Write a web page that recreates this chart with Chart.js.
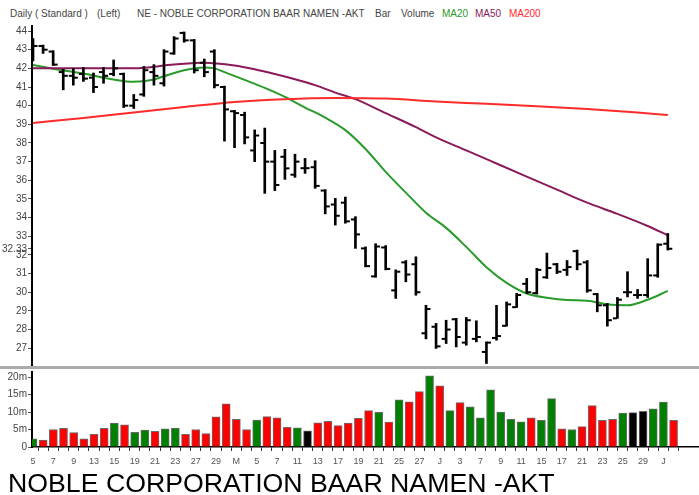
<!DOCTYPE html>
<html lang="en">
<head>
<meta charset="UTF-8">
<title>NOBLE CORPORATION BAAR NAMEN -AKT</title>
<script src="https://cdn.jsdelivr.net/npm/chart.js@4.4.1/dist/chart.umd.min.js"></script>
<style>
    body { margin: 0; background: #fff; font-family: "Liberation Sans", Arial, sans-serif; }
    #wrap { position: relative; width: 699px; height: 495px; overflow: hidden; background: #fff; }
    #head { position: absolute; left: 0; top: 8px; width: 699px; height: 13px; font-size: 10px; color: #444; white-space: nowrap; }
    #head span { position: absolute; top: 0; }
    canvas { position: absolute; left: 0; }
    #sep { position: absolute; left: 0; top: 366px; width: 699px; height: 3px; background: #aaa; }
    #title { position: absolute; left: 8px; top: 470px; font-size: 26.7px; line-height: 26.7px; color: #000; white-space: nowrap; }
</style>
</head>
<body>
<div id="wrap">
    <div id="head">
        <span style="left:10px">Daily ( Standard )</span>
        <span style="left:97px">(Left)</span>
        <span style="left:137px">NE - NOBLE CORPORATION BAAR NAMEN -AKT</span>
        <span style="left:375px">Bar</span>
        <span style="left:401px">Volume</span>
        <span style="left:442px;color:#2a9a2a">MA20</span>
        <span style="left:475px;color:#8b1a5a">MA50</span>
        <span style="left:509px;color:#ff2a2a">MA200</span>
    </div>
    <canvas id="price" width="699" height="375" style="top:0"></canvas>
    <canvas id="vol" width="699" height="110" style="top:362px"></canvas>
    <div id="sep"></div>
    <div id="title">NOBLE CORPORATION BAAR NAMEN -AKT</div>
</div>

<script>
// daily bars, 5 Apr - 2 Jul
const opens  = [42.6, 43.2, 42.9, 41.8, 41.6, 41.7, 41.5, 41.8, 41.7, 41.7, 40.0, 40.6, 41.8, 41.2, 42.8, 43.9,
                43.5, 42.3, 42.9, 41.0, 39.7, 39.5, 37.6, 38.0, 37.0, 37.26, 36.3, 36.65, 36.7, 35.45, 34.7, 34.8,
                33.9, 32.35, 30.85, 32.4, 30.1, 31.6, 31.5, 27.8, 28.15, 27.5, 28.55, 27.3, 27.5, 26.8, 27.55, 28.2,
                29.2, 30.45, 29.95, 30.8, 31.5, 31.2, 32.2, 31.6, 29.9, 29.3, 28.6, 30.0, 29.85, 29.85, 30.9, 32.6];
const highs  = [43.6, 43.25, 42.95, 41.95, 42.0, 42.05, 41.75, 42.05, 42.45, 41.75, 40.6, 42.1, 42.2, 43.0, 43.7, 43.95,
                43.55, 42.5, 43.0, 41.05, 39.75, 39.65, 38.7, 38.8, 37.6, 37.66, 37.4, 37.17, 37.05, 35.5, 35.03, 35.1,
                34.05, 32.43, 32.6, 32.5, 31.2, 31.7, 31.9, 29.3, 28.33, 28.5, 28.6, 28.65, 28.47, 27.34, 29.3, 29.48,
                29.94, 30.74, 31.28, 32.1, 31.55, 31.7, 32.26, 31.7, 29.94, 29.4, 29.72, 31.1, 30.15, 31.8, 32.6, 33.15];
const lows   = [42.4, 42.8, 42.15, 40.85, 41.1, 41.3, 40.7, 41.2, 41.6, 39.9, 39.85, 40.5, 41.1, 41.05, 42.75, 43.4,
                41.75, 41.55, 40.95, 38.1, 37.75, 37.95, 37.0, 35.3, 35.45, 36.05, 36.16, 36.37, 35.57, 34.2, 33.6, 33.7,
                32.35, 31.36, 30.8, 31.2, 29.67, 30.56, 29.84, 27.5, 26.99, 27.25, 27.07, 27.16, 27.34, 26.18, 27.43, 28.18,
                29.18, 29.94, 29.9, 30.74, 31.0, 30.9, 31.2, 30.0, 28.95, 28.18, 28.6, 29.75, 29.67, 29.72, 30.8, 32.26];
const closes = [43.2, 43.0, 42.2, 41.6, 41.5, 41.45, 41.0, 41.6, 42.0, 40.0, 40.3, 41.9, 41.6, 42.9, 43.6, 43.5,
                41.9, 41.8, 41.1, 39.8, 39.6, 38.3, 38.4, 37.0, 35.75, 36.64, 37.0, 36.65, 35.7, 34.6, 34.1, 33.8,
                33.1, 31.4, 32.45, 31.25, 31.1, 30.95, 30.0, 29.1, 27.1, 28.0, 27.6, 28.5, 27.6, 27.3, 27.65, 29.35,
                29.85, 30.0, 31.2, 31.3, 31.1, 31.35, 31.5, 30.1, 29.3, 28.5, 29.6, 30.0, 29.85, 30.9, 32.55, 32.33];
// volume in millions
const volumes = [2.3, 2.0, 5.0, 5.3, 4.1, 2.3, 3.6, 5.3, 6.8, 6.3, 4.2, 4.8, 4.5, 5.2, 5.4, 3.6,
                 5.0, 3.8, 8.6, 12.3, 7.9, 5.0, 7.7, 8.7, 8.3, 5.6, 5.5, 4.6, 6.9, 7.3, 6.1, 6.8,
                 8.2, 10.4, 9.9, 7.1, 13.5, 12.9, 15.8, 20.3, 17.5, 10.4, 12.7, 11.5, 8.3, 16.3, 10.0, 7.9,
                 7.2, 8.3, 7.6, 13.8, 5.2, 5.0, 5.8, 11.8, 7.6, 7.9, 9.7, 9.8, 10.2, 10.9, 12.8, 7.6];

// moving averages (bar index -> value)
const ma20At  = [0, 2, 5, 8, 10, 12, 13, 15, 17, 18, 19, 21, 23, 25, 27, 29, 31, 33, 35, 37, 39, 41, 43, 45, 47, 49, 51, 53, 55, 57, 59, 61, 63];
const ma20    = [42.18, 41.98, 41.72, 41.4, 41.28, 41.4, 41.58, 41.9, 42.05, 42.0, 41.8, 41.38, 40.95, 40.47, 39.9, 39.36, 38.69,
                 37.68, 36.45, 35.34, 34.26, 33.45, 32.43, 31.34, 30.5, 29.93, 29.7, 29.58, 29.55, 29.35, 29.3, 29.6, 30.07];
const ma50At  = [0, 5, 10, 14, 17, 20, 22, 24, 26, 28, 30, 32, 35, 38, 40, 43, 46, 49, 52, 55, 58, 61, 63];
const ma50    = [42.0, 42.0, 42.0, 42.2, 42.3, 42.15, 41.95, 41.7, 41.42, 41.1, 40.7, 40.35, 39.6, 38.85, 38.3, 37.6,
                 36.9, 36.2, 35.5, 34.8, 34.2, 33.55, 33.05];
const ma200At = [0, 5, 10, 15, 20, 25, 30, 35, 40, 45, 50, 55, 60, 63];
const ma200   = [39.07, 39.34, 39.64, 39.93, 40.2, 40.35, 40.41, 40.38, 40.22, 40.1, 39.97, 39.82, 39.63, 39.5];

const priceTicks = [27, 28, 29, 30, 31, 32, 32.33, 33, 34, 35, 36, 37, 38, 39, 40, 41, 42, 43, 44];
const volTicks = [0, 5, 10, 15, 20];
// labels on every second trading day
const xTickLabels = ['5', '7', '9', '13', '15', '19', '21', '23', '27', '29', 'M', '5', '7', '11', '13', '17',
                     '19', '21', '25', '27', 'J', '3', '7', '9', '11', '15', '17', '21', '23', '25', '29', 'J'];

const xMin = -0.1, xMax = 65.5;
const labelFont = { family: '"Liberation Sans", Arial, sans-serif', size: 10 };

function pts(xs, ys) {
    return xs.map((x, i) => ({ x: x, y: ys[i] }));
}

function fixWidth(scale) { scale.width = 32; }

function maLine(xs, ys, color) {
    return {
        type: 'line', data: pts(xs, ys), borderColor: color, borderWidth: 2,
        pointRadius: 0, cubicInterpolationMode: 'monotone', order: 5
    };
}

const idx = closes.map((_, i) => i);

new Chart(document.getElementById('price'), {
    type: 'line',
    data: {
        datasets: [
            { type: 'bar', data: idx.map(i => ({ x: i, y: [lows[i], highs[i]] })), backgroundColor: '#000',
              barThickness: 2, order: 0 },
            { type: 'scatter', data: idx.map(i => ({ x: i - 0.25, y: opens[i] })), pointStyle: 'line',
              pointRadius: 2, borderColor: '#000', borderWidth: 2, order: 0 },
            { type: 'scatter', data: idx.map(i => ({ x: i + 0.25, y: closes[i] })), pointStyle: 'line',
              pointRadius: 2, borderColor: '#000', borderWidth: 2, order: 0 },
            maLine(ma200At, ma200, '#ff2a2a'),
            maLine(ma50At, ma50, '#8b1a5a'),
            maLine(ma20At, ma20, '#2a9a2a')
        ]
    },
    options: {
        responsive: false,
        animation: false,
        devicePixelRatio: 1,
        events: [],
        layout: { padding: { top: 26, bottom: 10, left: 0, right: 0 } },
        plugins: { legend: { display: false }, tooltip: { enabled: false } },
        scales: {
            x: { type: 'linear', min: xMin, max: xMax, offset: false, display: false },
            y: {
                type: 'linear', min: 26.1, max: 44.27,
                afterBuildTicks: s => { s.ticks = priceTicks.map(v => ({ value: v })); },
                afterFit: fixWidth,
                grid: { drawOnChartArea: false, tickLength: 4, color: '#555' },
                border: { color: '#000', width: 2 },
                ticks: { autoSkip: false, padding: 1, color: '#444', font: labelFont,
                         callback: v => v === 32.33 ? '32.33' : String(v) }
            }
        }
    }
});

new Chart(document.getElementById('vol'), {
    type: 'bar',
    data: {
        datasets: [{
            data: idx.map(i => ({ x: i, y: volumes[i] })),
            backgroundColor: idx.map(i => closes[i] > opens[i] ? '#008000' : (closes[i] < opens[i] ? '#ff0000' : '#000')),
            borderColor: 'rgba(70,70,70,0.8)',
            borderWidth: 1,
            barThickness: 8
        }]
    },
    options: {
        responsive: false,
        animation: false,
        devicePixelRatio: 1,
        events: [],
        layout: { padding: { top: 10, bottom: 5, left: 0, right: 0 } },
        plugins: { legend: { display: false }, tooltip: { enabled: false } },
        scales: {
            x: {
                type: 'linear', min: xMin, max: xMax, offset: false,
                afterBuildTicks: s => { s.ticks = idx.map(v => ({ value: v })); },
                afterFit: s => { s.height = 20; },
                grid: { drawOnChartArea: false, tickLength: 4, color: '#333' },
                border: { color: '#000', width: 1.5 },
                ticks: { autoSkip: false, maxRotation: 0, padding: 5, color: '#555',
                         font: { family: labelFont.family, size: 9 },
                         callback: (v, i) => i % 2 === 0 ? xTickLabels[i / 2] : '' }
            },
            y: {
                type: 'linear', min: 0, max: 21.43,
                afterBuildTicks: s => { s.ticks = volTicks.map(v => ({ value: v })); },
                afterFit: fixWidth,
                grid: { drawOnChartArea: false, tickLength: 4, color: '#555' },
                border: { color: '#000', width: 2 },
                ticks: { autoSkip: false, padding: 1, color: '#444', font: labelFont,
                         callback: v => v === 0 ? '0' : v + 'm' }
            }
        }
    }
});
</script>
</body>
</html>
